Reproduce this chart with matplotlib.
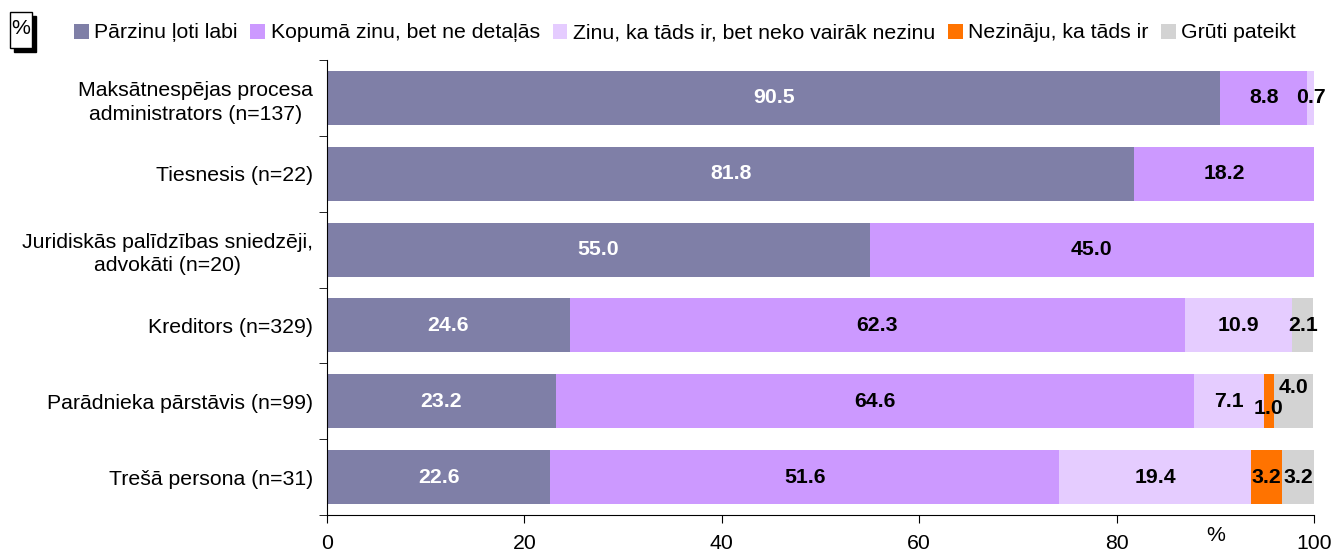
import numpy as np
import matplotlib
matplotlib.use('Agg')
import matplotlib.pyplot as plt
from matplotlib.patches import Rectangle

plt.rcParams['font.family'] = ['Liberation Sans', 'DejaVu Sans']

# Kategorijas un vērtības (%)
categories = ['Maksātnespējas procesa\nadministrators (n=137)', 'Tiesnesis (n=22)',
              'Juridiskās palīdzības sniedzēji,\nadvokāti (n=20)', 'Kreditors (n=329)',
              'Parādnieka pārstāvis (n=99)', 'Trešā persona (n=31)']
series_names = ['Pārzinu ļoti labi', 'Kopumā zinu, bet ne detaļās',
                'Zinu, ka tāds ir, bet neko vairāk nezinu', 'Nezināju, ka tāds ir', 'Grūti pateikt']
s_labi = [90.5, 81.8, 55.0, 24.6, 23.2, 22.6]
s_kopuma = [8.8, 18.2, 45.0, 62.3, 64.6, 51.6]
s_zinu = [0.7, 0.0, 0.0, 10.9, 7.1, 19.4]
s_nezinaju = [0.0, 0.0, 0.0, 0.0, 1.0, 3.2]
s_gruti = [0.0, 0.0, 0.0, 2.1, 4.0, 3.2]
colors = ['#7f7fa7', '#cc99ff', '#e5ccff', '#ff7300', '#d3d3d3']
text_colors = ['white', 'black', 'black', 'black', 'black']

data = [s_labi, s_kopuma, s_zinu, s_nezinaju, s_gruti]
fs = 15.3

fig = plt.figure(figsize=(13.36, 5.54), dpi=100)
ax = fig.add_axes([327 / 1336, 39 / 554, 987 / 1336, 455 / 554])

y = np.arange(len(categories))
left = np.zeros(len(categories))
for k, vals in enumerate(data):
    vals = np.array(vals)
    ax.barh(y, vals, left=left, height=0.71, color=colors[k], label=series_names[k])
    for i, v in enumerate(vals):
        if v <= 0:
            continue
        dy = 0
        # nelielas nobīdes pārklājošām etiķetēm
        if i == 4 and k == 3:
            dy = -5
        if i == 4 and k == 4:
            dy = 10
        ax.annotate('%.1f' % v, (left[i] + v / 2, i), xytext=(0, dy), textcoords='offset points',
                    ha='center', va='center', fontsize=fs, fontweight='bold', color=text_colors[k])
    left += vals

ax.set_xlim(0, 100)
ax.set_ylim(5.5, -0.5)
ax.set_xticks([0, 20, 40, 60, 80, 100])
ax.tick_params(axis='x', labelsize=fs, length=6, direction='out', pad=8)
ax.set_yticks(y)
ax.set_yticklabels(categories, fontsize=fs, multialignment='center')
for lab in ax.get_yticklabels():
    lab.set_linespacing(1.32)
ax.tick_params(axis='y', length=0, pad=10)
ax.set_yticks(np.arange(-0.5, 6, 1), minor=True)
ax.tick_params(axis='y', which='minor', length=6, direction='out')
ax.spines['top'].set_visible(False)
ax.spines['right'].set_visible(False)
ax.text(90, -0.025, '%', transform=ax.get_xaxis_transform(), fontsize=fs, ha='center', va='top')

# leģenda
fig.legend(loc='center', bbox_to_anchor=(685 / 1336, 1 - 33 / 554), ncol=5, frameon=False,
           fontsize=fs, handlelength=0.7, handleheight=0.7, handletextpad=0.25, columnspacing=0.6)

# "%" lodziņš ar ēnu
fig.patches.append(Rectangle((14 / 1336, 1 - 52 / 554), 22 / 1336, 36 / 554, transform=fig.transFigure,
                             facecolor='black', edgecolor='black'))
fig.patches.append(Rectangle((10 / 1336, 1 - 48 / 554), 22 / 1336, 36 / 554, transform=fig.transFigure,
                             facecolor='white', edgecolor='black', linewidth=1))
fig.text(21 / 1336, 1 - 29 / 554, '%', fontsize=fs, ha='center', va='center')

fig.savefig('out.png', dpi=100)
